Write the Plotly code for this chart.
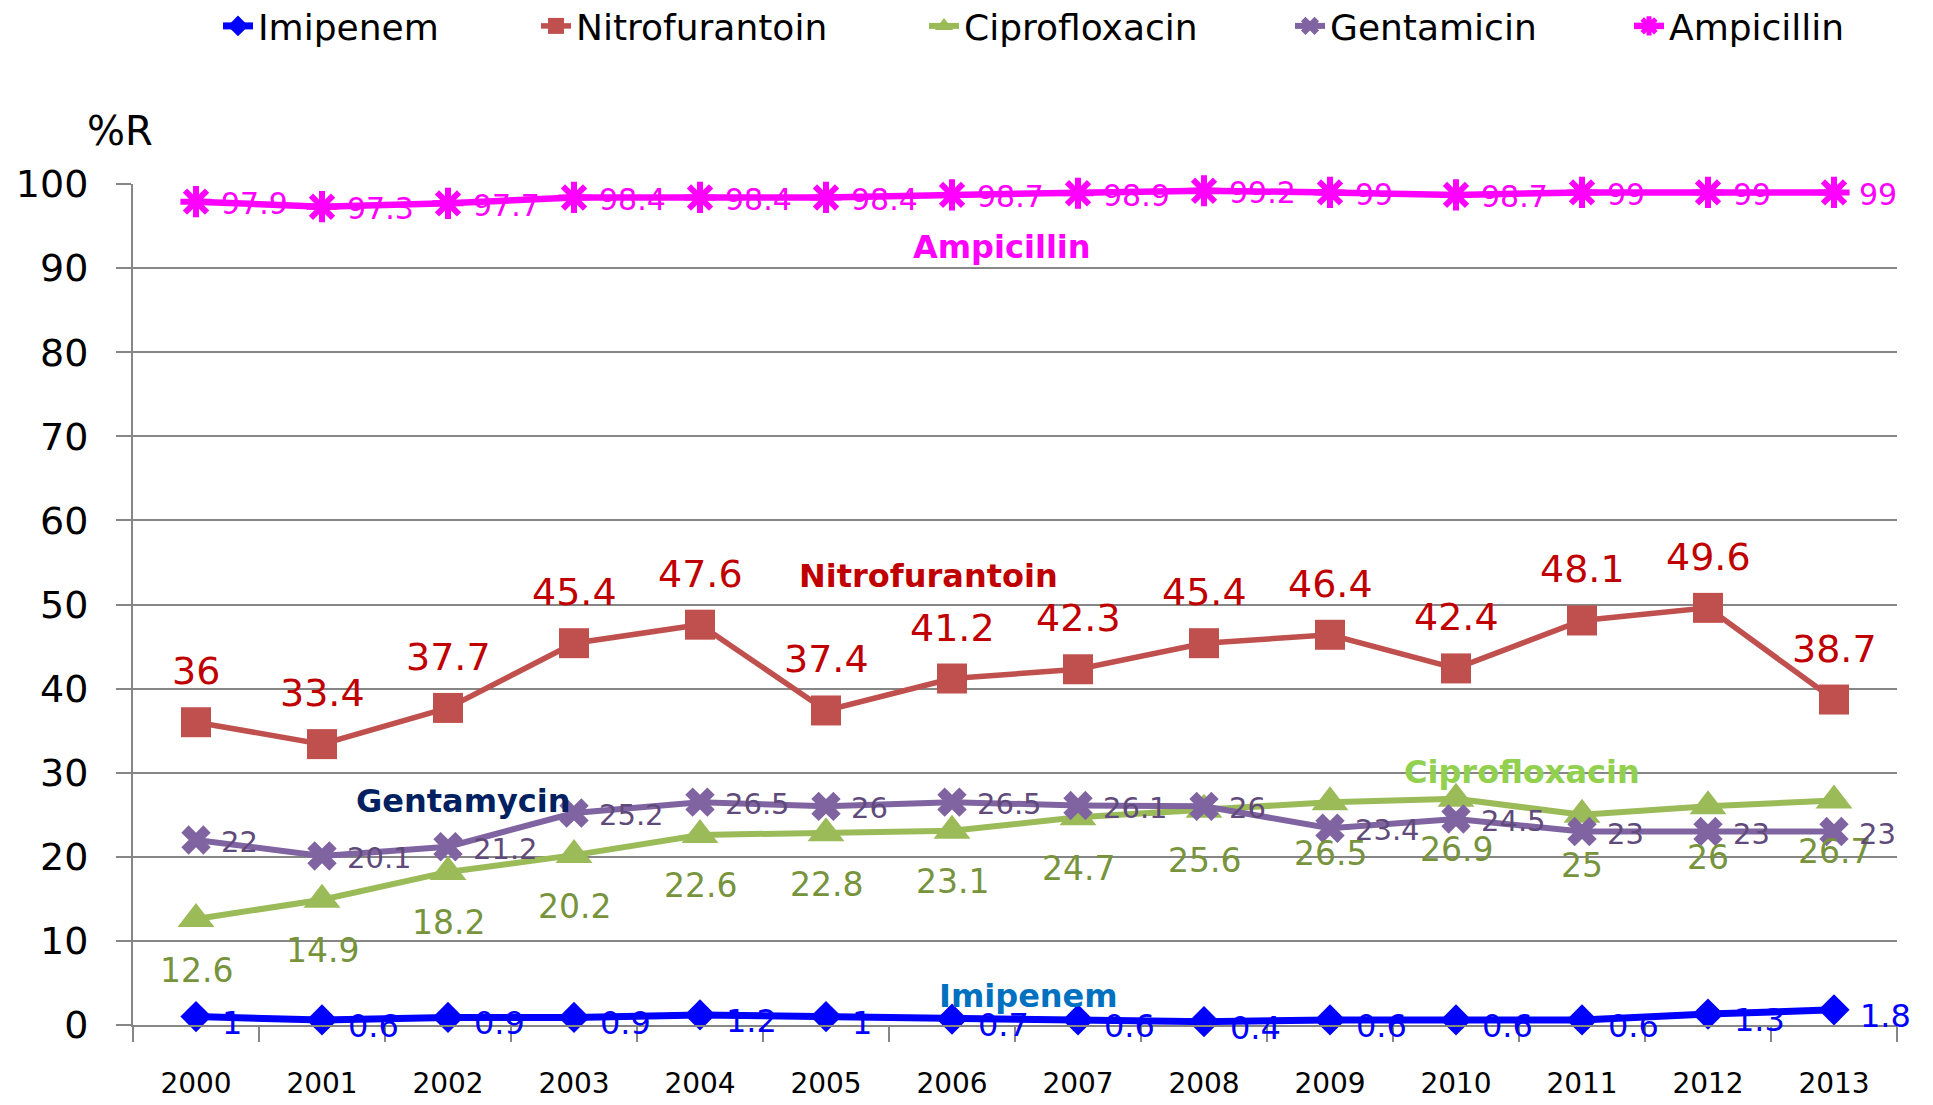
import plotly.graph_objects as go

years = [str(y) for y in range(2000, 2014)]
imipenem = [1, 0.6, 0.9, 0.9, 1.2, 1, 0.7, 0.6, 0.4, 0.6, 0.6, 0.6, 1.3, 1.8]
nitrofurantoin = [36, 33.4, 37.7, 45.4, 47.6, 37.4, 41.2, 42.3, 45.4, 46.4, 42.4, 48.1, 49.6, 38.7]
ciprofloxacin = [12.6, 14.9, 18.2, 20.2, 22.6, 22.8, 23.1, 24.7, 25.6, 26.5, 26.9, 25, 26, 26.7]
gentamicin = [22, 20.1, 21.2, 25.2, 26.5, 26, 26.5, 26.1, 26, 23.4, 24.5, 23, 23, 23]
ampicillin = [97.9, 97.3, 97.7, 98.4, 98.4, 98.4, 98.7, 98.9, 99.2, 99, 98.7, 99, 99, 99]
y_ticks = [0, 10, 20, 30, 40, 50, 60, 70, 80, 90, 100]

FONT = "DejaVu Sans"
# page body has an 8px margin; compensate so the plot lands where the reference has it
OFF = 8
W, H = 1933 - OFF, 1105 - OFF
L, R, T, B = 133 - OFF, 36, 184 - OFF, 80
PW, PH = W - L - R, H - T - B

series = [
    dict(name="Imipenem", y=imipenem, color="#0000FF", symbol="diamond", size=24,
         lw=7, lab_color="#0000FF", lab_size=32, pos="right", yshift=-6, xshift=24, leg_px=218),
    dict(name="Nitrofurantoin", y=nitrofurantoin, color="#C0504D", symbol="square", size=30,
         lw=5.5, lab_color="#C00000", lab_size=38, pos="above", yshift=51, xshift=0, leg_px=536),
    dict(name="Ciprofloxacin", y=ciprofloxacin, color="#9BBB59", symbol="triangle-up", size=32,
         lw=6, lab_color="#77933C", lab_size=33, pos="below", yshift=-51, xshift=0, leg_px=924),
    dict(name="Gentamicin", y=gentamicin, color="#8064A2", symbol="x", size=26,
         lw=6, lab_color="#604A7B", lab_size=29, pos="right", yshift=-2, xshift=23, leg_px=1290),
    dict(name="Ampicillin", y=ampicillin, color="#FF00FF", symbol="asterisk-open", size=26,
         lw=6.5, lab_color="#FF00FF", lab_size=30, pos="right", yshift=-2, xshift=23, leg_px=1629),
]

fig = go.Figure()
annotations = []
legends = {}
for k, s in enumerate(series):
    marker = dict(symbol=s["symbol"], size=s["size"], color=s["color"])
    if s["symbol"] == "asterisk-open":
        marker["line"] = dict(color=s["color"], width=6)
    else:
        marker["line"] = dict(color=s["color"], width=0)
    legname = "legend" if k == 0 else f"legend{k + 1}"
    fig.add_trace(go.Scatter(
        x=years, y=s["y"], name=s["name"], mode="lines+markers",
        line=dict(color=s["color"], width=s["lw"]), marker=marker, cliponaxis=False,
        legend=legname,
    ))
    legends[legname] = dict(
        orientation="h", xref="paper", yref="paper",
        x=(s["leg_px"] - 133) / PW, xanchor="left",
        y=(1025 - 26) / PH, yanchor="middle",
        font=dict(family=FONT, size=36, color="black"),
        bgcolor="rgba(0,0,0,0)", borderwidth=0, itemwidth=30,
    )
    for i, yi in enumerate(s["y"]):
        xa = "left" if s["pos"] == "right" else "center"
        annotations.append(dict(
            x=i, y=yi, xref="x", yref="y", text=f"{yi:g}", showarrow=False,
            xanchor=xa, yanchor="middle", xshift=s["xshift"], yshift=s["yshift"],
            font=dict(family=FONT, size=s["lab_size"], color=s["lab_color"]),
        ))

# series name labels inside plot
names = [
    ("Ampicillin", 6.40, 92.5, "#FF00FF"),
    ("Nitrofurantoin", 5.81, 53.4, "#C00000"),
    ("Gentamycin", 2.12, 26.6, "#002060"),
    ("Ciprofloxacin", 10.52, 30.1, "#92D050"),
    ("Imipenem", 6.61, 3.45, "#0070C0"),
]
for t, xx, yy, c in names:
    annotations.append(dict(
        x=xx, y=yy, xref="x", yref="y", text=f"<b>{t}</b>", showarrow=False,
        xanchor="center", yanchor="middle",
        font=dict(family=FONT, size=32, color=c),
    ))

annotations.append(dict(
    xref="paper", yref="paper", x=(120 - 133) / PW, y=(1025 - 131) / PH,
    text="%R", showarrow=False, xanchor="center", yanchor="middle",
    font=dict(family=FONT, size=40, color="black"),
))

fig.update_layout(
    width=W, height=H,
    margin=dict(l=L, r=R, t=T, b=B, autoexpand=False),
    paper_bgcolor="white", plot_bgcolor="white",
    font=dict(family=FONT, color="black"),
    showlegend=True,
    annotations=annotations,
    xaxis=dict(type="category", range=[-0.5, 13.5], tickson="boundaries",
               ticks="outside", ticklen=15, tickwidth=2, tickcolor="#868686",
               showline=True, linecolor="#868686", linewidth=2, showgrid=False,
               tickfont=dict(family=FONT, size=28, color="black"),
               ticklabelstandoff=32, automargin=False),
    yaxis=dict(range=[0, 100], tickvals=y_ticks, ticks="outside", ticklen=15,
               tickwidth=2, tickcolor="#868686", showline=True, linecolor="#868686",
               linewidth=2, showgrid=True, gridcolor="#868686", gridwidth=2,
               zeroline=False, tickfont=dict(family=FONT, size=38, color="black"),
               ticklabelstandoff=20, automargin=False),
    **legends,
)

fig.write_html("out.html")
